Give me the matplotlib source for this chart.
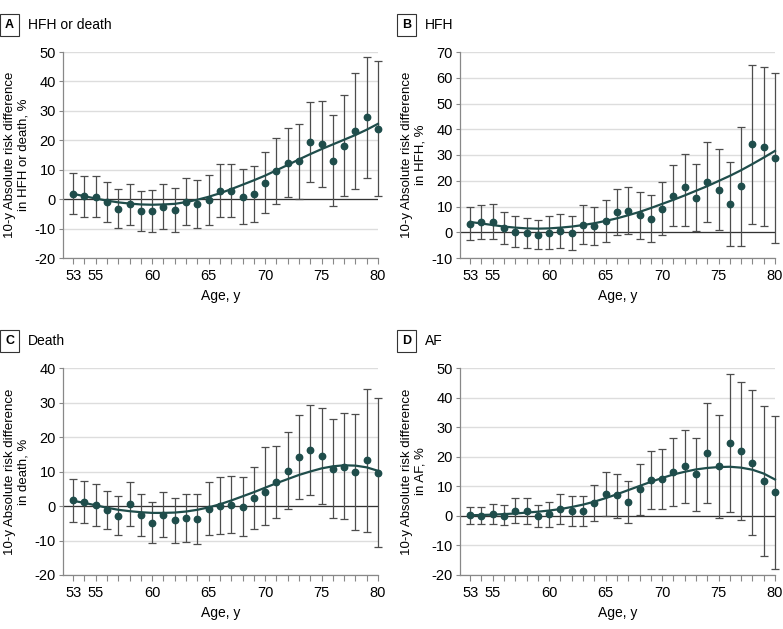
import matplotlib
matplotlib.use("Agg")
import matplotlib.pyplot as plt
import numpy as np

plt.rcParams['font.family'] = ['Liberation Sans', 'DejaVu Sans']

ages = list(range(53, 81))

# panel A: HFH or death
hfd_est = [1.8, 1.0, 0.6, -1.0, -3.3, -1.8, -4.0, -4.0, -2.5, -3.8, -0.9, -1.7, -0.3, 2.7,
           2.9, 0.7, 1.7, 5.6, 9.4, 12.4, 12.9, 19.4, 18.8, 13.1, 18.2, 23.1, 27.8, 23.9]
hfd_lo = [-5.2, -6.0, -6.2, -7.7, -9.9, -8.8, -10.8, -11.0, -10.0, -11.2, -8.8, -9.9, -8.8, -6.1,
          -6.2, -8.5, -7.8, -4.8, -1.6, 0.7, 0.0, 5.7, 4.1, -2.3, 1.0, 3.5, 7.2, 1.2]
hfd_hi = [8.8, 7.8, 7.8, 5.7, 3.3, 5.1, 2.7, 3.1, 5.0, 3.7, 7.2, 6.5, 8.1, 11.8,
          12.1, 10.1, 11.2, 15.9, 20.7, 24.1, 25.7, 33.1, 33.2, 28.7, 35.5, 43.0, 48.4, 46.8]
hfd_fit = [1.8, 1.0, 0.2, -0.5, -1.1, -1.5, -1.8, -1.9, -1.8, -1.6, -1.0, -0.2, 0.8, 2.0,
           3.4, 4.9, 6.4, 8.0, 9.8, 11.6, 13.5, 15.3, 17.0, 18.6, 20.2, 21.8, 23.6, 25.6]

# panel B: HFH
hfh_est = [3.3, 4.0, 3.8, 1.5, 0.1, -0.4, -0.9, -0.1, 0.4, -0.3, 3.0, 2.6, 4.3, 7.8,
           8.3, 6.6, 5.3, 9.1, 14.0, 17.7, 13.4, 19.5, 16.4, 11.1, 17.8, 34.2, 33.1, 28.7]
hfh_lo = [-3.0, -2.5, -2.8, -4.6, -5.8, -6.1, -6.6, -6.4, -6.2, -6.9, -4.5, -5.0, -3.7, -1.1,
          -0.6, -2.5, -3.6, -1.1, 2.3, 2.6, 0.4, 4.1, 0.8, -5.3, -5.4, 3.1, 2.3, -4.2]
hfh_hi = [9.8, 10.5, 10.8, 7.8, 6.2, 5.5, 4.9, 6.4, 7.1, 6.4, 10.4, 10.0, 12.4, 16.7,
          17.4, 15.6, 14.3, 19.4, 26.0, 30.4, 26.4, 34.9, 32.3, 27.3, 40.9, 65.1, 64.2, 61.9]
hfh_fit = [4.0, 3.4, 2.8, 2.2, 1.8, 1.5, 1.4, 1.5, 1.8, 2.2, 2.8, 3.5, 4.4, 5.4,
           6.6, 7.9, 9.4, 11.0, 12.6, 14.3, 16.1, 17.9, 19.9, 21.9, 24.1, 26.5, 29.0, 31.6]

# panel C: death
dth_est = [1.7, 1.2, 0.4, -1.3, -2.9, 0.5, -2.7, -4.9, -2.5, -4.1, -3.6, -3.7, -0.8, 0.0,
           0.2, -0.3, 2.2, 4.2, 6.9, 10.2, 14.2, 16.3, 14.4, 10.8, 11.4, 9.9, 13.2, 9.5]
dth_lo = [-4.5, -4.8, -5.7, -6.8, -8.5, -5.9, -8.8, -10.8, -9.1, -10.6, -10.4, -10.9, -8.5, -8.0,
          -7.8, -8.8, -6.6, -5.4, -3.5, -0.8, 2.0, 3.3, 0.7, -3.6, -3.9, -6.9, -7.5, -12.0]
dth_hi = [7.9, 7.3, 6.5, 4.4, 2.9, 7.1, 3.5, 1.2, 4.1, 2.4, 3.4, 3.5, 7.0, 8.3,
          8.7, 8.3, 11.3, 17.1, 17.4, 21.5, 26.4, 29.4, 28.4, 25.1, 27.0, 26.7, 34.0, 31.4]
dth_fit = [1.5, 0.9, 0.2, -0.5, -1.1, -1.5, -1.8, -2.0, -2.0, -1.9, -1.6, -1.1, -0.4, 0.5,
           1.6, 2.8, 4.0, 5.3, 6.6, 7.8, 9.0, 10.0, 10.9, 11.5, 11.8, 11.7, 11.2, 10.2]

# panel D: AF
af_est = [0.2, 0.1, 0.7, 0.1, 1.8, 1.7, 0.1, 0.6, 2.3, 1.7, 1.6, 4.3, 7.5, 6.9,
          4.6, 9.0, 12.0, 12.5, 14.9, 16.9, 14.1, 21.3, 16.8, 24.6, 21.8, 18.0, 11.9, 7.9]
af_lo = [-2.7, -2.6, -2.6, -3.1, -2.3, -2.6, -3.6, -3.6, -2.6, -3.3, -3.4, -1.9, 0.1, -0.6,
         -2.5, 0.2, 2.3, 2.3, 3.4, 4.5, 1.8, 4.3, -0.8, 1.3, -1.5, -6.5, -13.5, -18.1]
af_hi = [3.1, 3.1, 4.1, 3.7, 5.9, 5.9, 3.8, 4.8, 7.3, 6.8, 6.8, 10.6, 14.9, 14.3,
         11.9, 17.7, 21.8, 22.7, 26.3, 29.2, 26.4, 38.2, 34.2, 48.1, 45.3, 42.4, 37.3, 33.8]
af_fit = [0.2, 0.3, 0.4, 0.6, 0.8, 1.1, 1.4, 1.8, 2.3, 3.0, 3.8, 4.8, 6.0, 7.3,
          8.7, 10.1, 11.5, 12.8, 14.0, 14.9, 15.7, 16.2, 16.5, 16.6, 16.3, 15.6, 14.3, 12.3]

panels = [
    ("A", "HFH or death", "in HFH or death, %", hfd_est, hfd_lo, hfd_hi, hfd_fit, (-20, 50)),
    ("B", "HFH", "in HFH, %", hfh_est, hfh_lo, hfh_hi, hfh_fit, (-10, 70)),
    ("C", "Death", "in death, %", dth_est, dth_lo, dth_hi, dth_fit, (-20, 40)),
    ("D", "AF", "in AF, %", af_est, af_lo, af_hi, af_fit, (-20, 50)),
]

W, H = 783, 629
fig = plt.figure(figsize=(W / 100, H / 100), dpi=100)

# axes boxes in pixels: left, top, right, bottom
boxes = [(63, 52, 378, 258), (460, 52, 775, 258),
         (63, 368, 378, 575), (460, 368, 775, 575)]

teal = "#1f4d4b"
bar_col = "#4d4d4d"
fs = 10.5

for (letter, title, ylab2, est, lo, hi, fit, ylim), (l, t, r, b) in zip(panels, boxes):
    ax = fig.add_axes([l / W, 1 - b / H, (r - l) / W, (b - t) / H])
    x = np.array(ages)
    est = np.array(est)
    yerr = [est - np.array(lo), np.array(hi) - est]
    eb = ax.errorbar(x, est, yerr=yerr, fmt="none", ecolor=bar_col, elinewidth=0.9,
                     capsize=3, capthick=0.9, zorder=2)
    for art in eb.lines[1] + eb.lines[2]:
        art.set_clip_on(False)
    ax.plot(x, fit, color=teal, lw=1.6, zorder=3, clip_on=False)
    ax.plot(x, est, "o", color=teal, ms=4.6, zorder=4, clip_on=False)
    ax.axhline(0, color="#333333", lw=0.9, zorder=1)

    ax.set_xlim(52.1, 80)
    ax.set_ylim(*ylim)
    yt = list(range(ylim[0], ylim[1] + 1, 10))
    ax.set_yticks(yt)
    ax.set_yticklabels([str(v) for v in yt])
    ax.set_xticks(ages)
    ax.set_xticklabels([str(a) if a in (53, 55, 60, 65, 70, 75, 80) else "" for a in ages])
    ax.grid(axis="y", color="#dddddd", lw=1.0, zorder=0)
    ax.set_axisbelow(True)
    for s in ("top", "right"):
        ax.spines[s].set_visible(False)
    for s in ("left", "bottom"):
        ax.spines[s].set_color("#888888")
        ax.spines[s].set_linewidth(0.9)
    ax.tick_params(axis="x", length=4, color="#888888", labelsize=fs, pad=4)
    ax.tick_params(axis="y", length=3, color="#888888", labelsize=fs, pad=2)
    ax.set_xlabel("Age, y", fontsize=10, labelpad=4)
    ax.set_ylabel("10-y Absolute risk difference\n" + ylab2, fontsize=9.5, labelpad=4,
                  linespacing=1.1)

    bx = (l - 63) / W
    ty = 1 - (t - 27) / H
    fig.text(bx + 5 / W, ty, letter, fontsize=9, fontweight="bold", va="center", ha="left",
             bbox=dict(boxstyle="square,pad=0.4", fc="white", ec="#333333", lw=0.8))
    fig.text(bx + 28 / W, ty, title, fontsize=10, va="center", ha="left")

fig.savefig("out.png", dpi=100)
